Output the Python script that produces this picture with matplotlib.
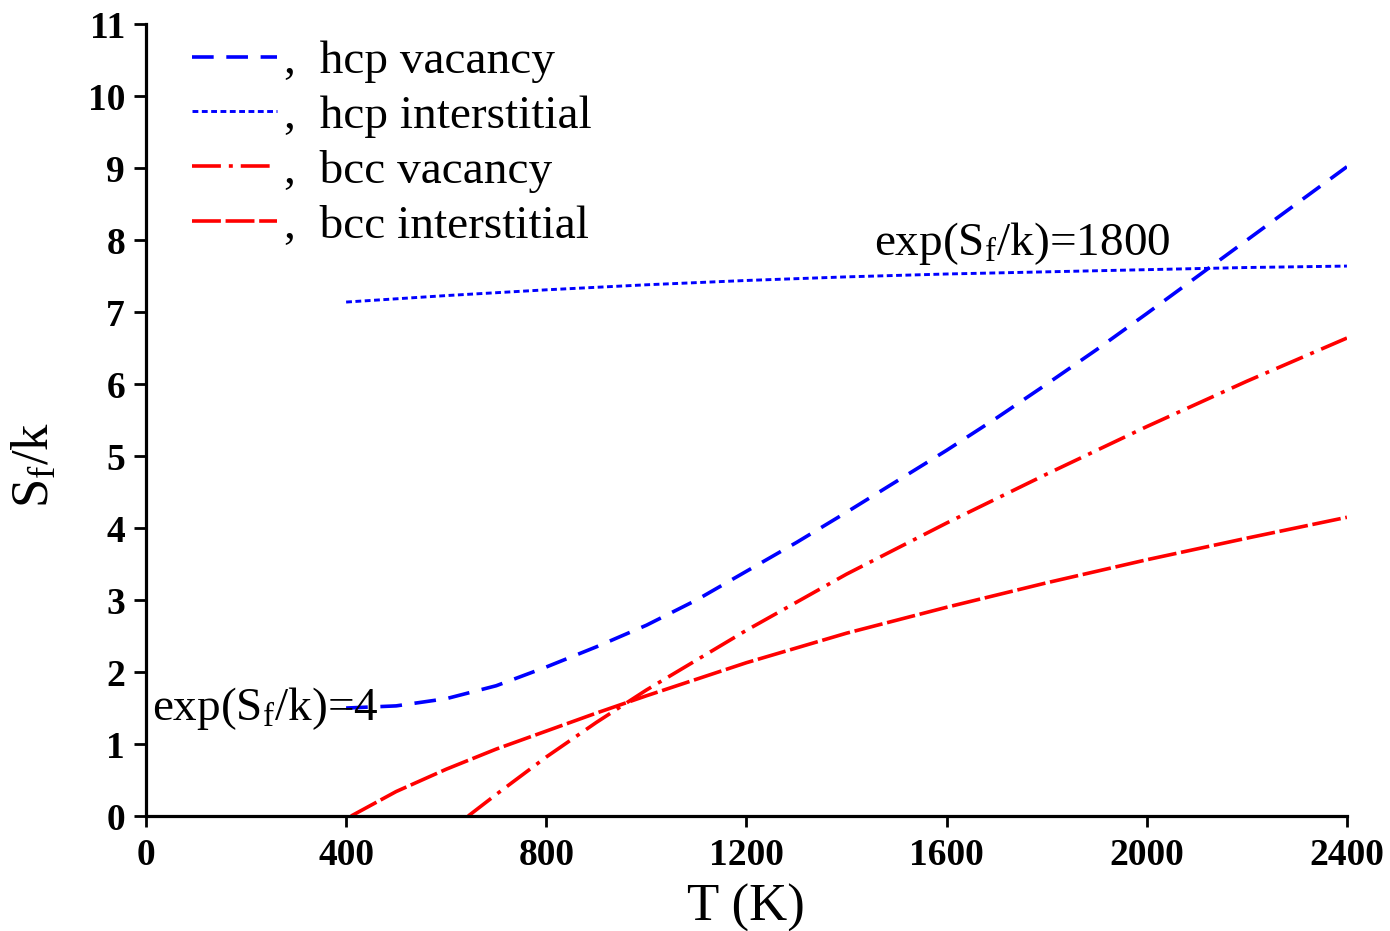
import matplotlib
matplotlib.use("Agg")
import matplotlib.pyplot as plt
import numpy as np

# Entropia de formacion de defectos frente a la temperatura
T_hcp_vac = [400, 500, 600, 700, 800, 900, 1000, 1100, 1200, 1300, 1400, 1500,
             1600, 1700, 1800, 1900, 2000, 2100, 2200, 2300, 2400]
S_hcp_vac = [1.50, 1.53, 1.63, 1.81, 2.07, 2.35, 2.65, 3.00, 3.40, 3.80, 4.22, 4.65,
             5.08, 5.53, 6.00, 6.48, 6.98, 7.49, 8.00, 8.51, 9.02]

T_hcp_int = [400, 600, 800, 1000, 1200, 1400, 1600, 1800, 2000, 2200, 2400]
S_hcp_int = [7.14, 7.23, 7.31, 7.38, 7.44, 7.49, 7.53, 7.56, 7.59, 7.62, 7.64]

T_bcc_vac = [644, 700, 800, 900, 1000, 1200, 1400, 1600, 1800, 2000, 2200, 2400]
S_bcc_vac = [0.0, 0.30, 0.82, 1.30, 1.75, 2.58, 3.36, 4.07, 4.75, 5.41, 6.04, 6.64]

T_bcc_int = [410, 500, 600, 700, 800, 900, 1000, 1100, 1200, 1400, 1600, 1800,
             2000, 2200, 2400]
S_bcc_int = [0.0, 0.34, 0.65, 0.93, 1.18, 1.43, 1.67, 1.90, 2.13, 2.54, 2.90, 3.24,
             3.56, 3.86, 4.15]

plt.rcParams['font.family'] = ['Liberation Serif', 'DejaVu Serif']
plt.rcParams['mathtext.fontset'] = 'custom'
plt.rcParams['mathtext.rm'] = 'Liberation Serif'
plt.rcParams['mathtext.it'] = 'Liberation Serif:italic'
plt.rcParams['mathtext.bf'] = 'Liberation Serif:bold'

fig = plt.figure(figsize=(13.9, 9.31), dpi=100)
ax = fig.add_axes([0.105, 0.1235, 0.864, 0.8505])

lw = 2.6
ax.plot(T_hcp_vac, S_hcp_vac, color='blue', lw=lw, linestyle=(0, (6, 3.5)),
        label=',  hcp vacancy')
ax.plot(T_hcp_int, S_hcp_int, color='blue', lw=2.1, linestyle=(0, (2, 1.2)),
        label=',  hcp interstitial')
ax.plot(T_bcc_vac, S_bcc_vac, color='red', lw=lw, linestyle=(0, (8, 2.2, 1.1, 2.2)),
        label=',  bcc vacancy')
ax.plot(T_bcc_int, S_bcc_int, color='red', lw=lw, linestyle=(0, (8, 1.3)),
        label=',  bcc interstitial')

ax.text(1454, 7.79, r'exp(S$_\mathrm{f}$/k)=1800', fontsize=34, va='baseline')
ax.text(12, 1.33, r'exp(S$_\mathrm{f}$/k)=4', fontsize=34, va='baseline')

ax.set_xlim(0, 2400)
ax.set_ylim(0, 11)
ax.set_xticks([0, 400, 800, 1200, 1600, 2000, 2400])
ax.set_yticks(range(0, 12))

for side in ['top', 'right']:
    ax.spines[side].set_visible(False)
for side in ['left', 'bottom']:
    ax.spines[side].set_linewidth(2.3)

ax.tick_params(axis='both', direction='out', width=2, labelsize=27)
ax.tick_params(axis='y', length=9, pad=6)
ax.tick_params(axis='x', length=8, pad=8)
for lab in ax.get_xticklabels() + ax.get_yticklabels():
    lab.set_fontweight('bold')

ax.set_xlabel('T (K)', fontsize=38, labelpad=8)
ax.set_ylabel(r'S$_\mathrm{f}$/k', fontsize=38)
ax.yaxis.set_label_coords(-0.072, 0.443)

ax.legend(loc='upper left', bbox_to_anchor=(0.038, 0.98), frameon=False,
          fontsize=34, handlelength=1.8, handletextpad=0.15, labelspacing=0.25,
          borderpad=0, borderaxespad=0)

fig.savefig('out.png', dpi=100)
